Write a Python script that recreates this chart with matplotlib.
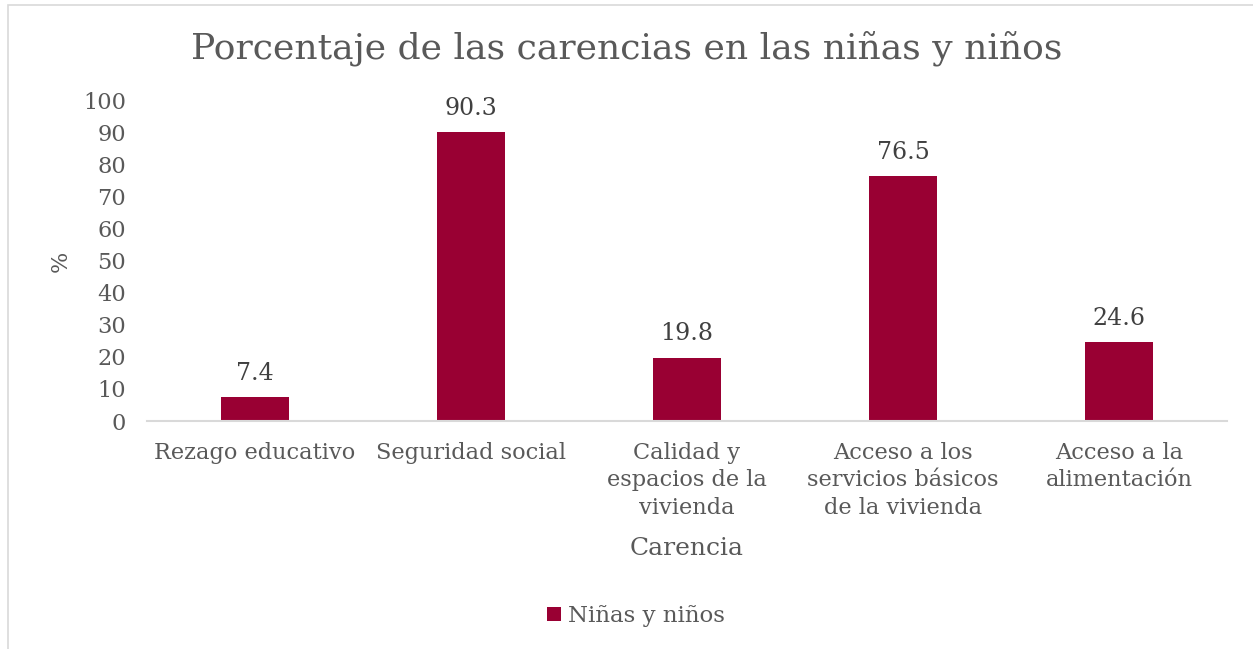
import matplotlib.pyplot as plt
from matplotlib.patches import Rectangle

categories = ["Rezago educativo", "Seguridad social", "Calidad y\nespacios de la\nvivienda",
              "Acceso a los\nservicios básicos\nde la vivienda", "Acceso a la\nalimentación"]
values = [7.4, 90.3, 19.8, 76.5, 24.6]
series_name = "Niñas y niños"

bar_color = "#990033"
text_color = "#595959"
plt.rcParams['font.family'] = ['DejaVu Serif']

fig = plt.figure(figsize=(12.53, 6.49), dpi=100)
fig.patches.append(Rectangle((8 / 1253, -0.1), 1.2, 1 - 5 / 649 + 0.1, transform=fig.transFigure,
                             fill=False, edgecolor="#d9d9d9", linewidth=1.2))
ax = fig.add_axes([147 / 1253, 1 - 421 / 649, 1080 / 1253, 320 / 649])

x = range(len(categories))
bars = ax.bar(x, values, width=0.315, color=bar_color, label=series_name)
for xi, v in zip(x, values):
    ax.annotate(f"{v:.1f}", (xi, v), xytext=(0, 9), textcoords="offset points",
                ha="center", va="bottom", fontsize=17, color="#404040")

ax.set_xlim(-0.5, len(categories) - 0.5)
ax.set_ylim(0, 100)
ax.set_yticks(range(0, 101, 10))
ax.set_xticks(list(x))
ax.set_xticklabels(categories, fontsize=16.2, color=text_color, linespacing=1.32)
ax.tick_params(axis="y", labelsize=16.2, labelcolor=text_color, length=0, pad=15)
ax.tick_params(axis="x", length=0, pad=15)
for s in ["top", "right", "left"]:
    ax.spines[s].set_visible(False)
ax.spines["bottom"].set_color("#d9d9d9")
ax.spines["bottom"].set_linewidth(1.5)

ax.set_ylabel("%", fontsize=16, color=text_color, labelpad=8)
ax.set_xlabel("Carencia", fontsize=18, color=text_color, labelpad=13)
fig.text(0.5, 1 - 48 / 649, "Porcentaje de las carencias en las niñas y niños",
         ha="center", va="center", fontsize=26, color=text_color)

fig.legend(loc="center", bbox_to_anchor=(636 / 1253, 1 - 616 / 649), frameon=False,
           fontsize=16.5, labelcolor=text_color, handlelength=0.6, handleheight=0.6,
           handletextpad=0.3)

fig.savefig("out.png", dpi=100)
